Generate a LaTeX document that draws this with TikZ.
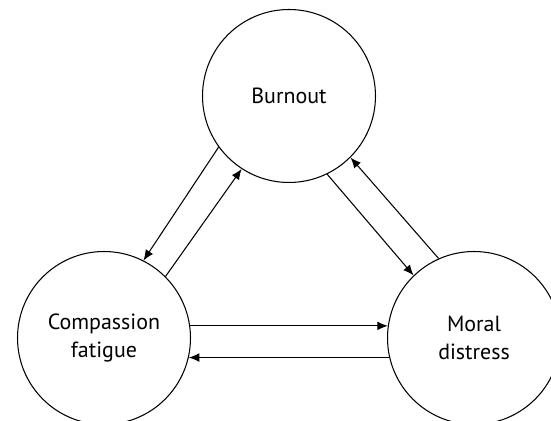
\documentclass[tikz,border=0pt]{standalone}
\usepackage{fontspec}
\setmainfont{PT Sans}
\usetikzlibrary{arrows.meta}

\begin{document}
\begin{tikzpicture}[x=0.02cm, y=0.02cm,
    state/.style={draw, circle, line width=0.6pt, minimum size=3.46cm, inner sep=0pt, align=center, font=\fontsize{12.5}{16}\selectfont},
    link/.style={line width=0.6pt, -{Latex[length=6pt, width=5pt]}}]

    % Fix the page size
    \useasboundingbox (0, 0) rectangle (551, 421);

    % Draw the three circles
    \node[state] (Burnout) at (289, 325) {Burnout};
    \node[state] (Fatigue) at (104, 83) {Compassion\\fatigue};
    \node[state] (Distress) at (474, 83) {Moral\\distress};

    % Burnout <-> compassion fatigue
    \draw[link] (Burnout.216) -- (Fatigue.63);
    \draw[link] (Fatigue.45) -- (Burnout.237);

    % Burnout <-> moral distress
    \draw[link] (Burnout.296) -- (Distress.134);
    \draw[link] (Distress.114) -- (Burnout.315);

    % Compassion fatigue <-> moral distress
    \draw[link] (Fatigue.8) -- (Distress.172);
    \draw[link] (Distress.193) -- (Fatigue.-13);

\end{tikzpicture}
\end{document}
